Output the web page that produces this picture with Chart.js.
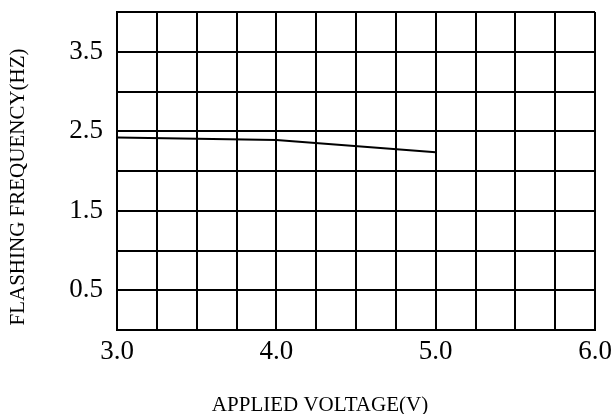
<!DOCTYPE html>
<html>
<head>
<meta charset="utf-8">
<script src="https://cdn.jsdelivr.net/npm/chart.js@4/dist/chart.umd.min.js"></script>
<style>
  html, body { margin: 0; padding: 0; background: #fff; }
  #wrap { width: 611px; height: 414px; }
</style>
</head>
<body>
<div id="wrap"><canvas id="flashChart"></canvas></div>
<script>
// values
const voltage = [3.0, 4.0, 5.0];
const frequency = [2.42, 2.39, 2.235];
const xTitle = 'APPLIED VOLTAGE(V)';
const yTitle = 'FLASHING FREQUENCY(HZ)';

const points = voltage.map((v, i) => ({ x: v, y: frequency[i] }));

const serif = 'Liberation Serif';

// axis titles placed where the original has them (off-centre)
const titlePlugin = {
    id: 'axisTitles',
    afterDraw(chart) {
        const ctx = chart.ctx;
        ctx.save();
        ctx.fillStyle = '#000';
        ctx.font = '21px "' + serif + '"';
        ctx.textAlign = 'center';
        ctx.textBaseline = 'middle';
        ctx.fillText(xTitle, 320, 405);
        ctx.translate(18, 187);
        ctx.rotate(-Math.PI / 2);
        ctx.fillText(yTitle, 0, 0);
        ctx.restore();
    }
};

const ctx = document.getElementById('flashChart').getContext('2d');

const flash_chart = new Chart(ctx, {
    type: 'scatter',
    data: {
        datasets: [{
            data: points,
            showLine: true,
            borderColor: '#000',
            borderWidth: 2,
            pointRadius: 0,
            tension: 0
        }]
    },
    options: {
        responsive: true,
        maintainAspectRatio: false,
        animation: false,
        layout: { padding: { top: 12, right: 16, left: 0, bottom: 0 } },
        plugins: { legend: { display: false }, tooltip: { enabled: false } },
        scales: {
            x: {
                type: 'linear',
                min: 3,
                max: 6,
                border: { color: '#000', width: 2 },
                grid: { color: '#000', lineWidth: 2, drawTicks: false },
                ticks: {
                    stepSize: 0.25,
                    autoSkip: false,
                    maxRotation: 0,
                    padding: 6,
                    color: '#000',
                    font: { family: serif, size: 27 },
                    callback: v => (v % 1 === 0 ? v.toFixed(1) : '')
                },
                afterFit: s => {
                    s.height = 84;
                    s.paddingLeft = 0;
                    s.paddingRight = 0;
                }
            },
            y: {
                type: 'linear',
                min: 0,
                max: 4,
                border: { color: '#000', width: 2 },
                grid: { color: '#000', lineWidth: 2, drawTicks: false },
                ticks: {
                    stepSize: 0.5,
                    autoSkip: false,
                    padding: 14,
                    color: '#000',
                    font: { family: serif, size: 27 },
                    callback: v => ((v * 2) % 2 === 1 ? v.toFixed(1) : '')
                },
                afterFit: s => {
                    s.width = 117;
                    s.paddingTop = 0;
                    s.paddingBottom = 0;
                }
            }
        }
    },
    plugins: [titlePlugin]
});
</script>
</body>
</html>
